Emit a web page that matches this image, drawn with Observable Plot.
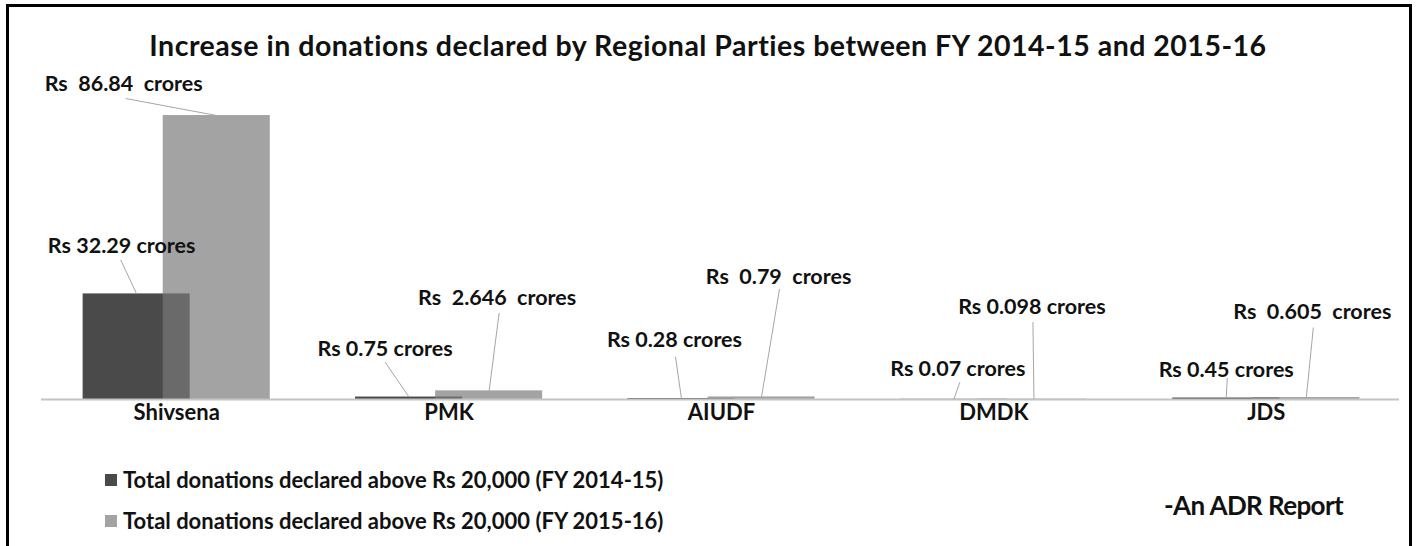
<!DOCTYPE html>
<html>
<head>
<meta charset="utf-8">
<script src="https://cdn.jsdelivr.net/npm/d3@7"></script>
<script src="https://cdn.jsdelivr.net/npm/@observablehq/plot@0.6"></script>
<style>
  html, body { margin: 0; padding: 0; background: #fff; }
  body { font-family: Lato, "Open Sans", sans-serif; color: #111; }
  #wrap { position: relative; width: 1416px; height: 546px; overflow: hidden; }
  #frame { position: absolute; left: 6px; top: 4px; width: 1406px; height: 700px; border: 3px solid #000; box-sizing: border-box; pointer-events: none; }
  #chart { position: absolute; left: 0; top: 0; }
  #title { position: absolute; left: 0; top: 28px; width: 1416px; text-align: center; font-weight: 700; font-size: 28.5px; letter-spacing: 0.5px; line-height: 34px; white-space: nowrap; }
  .legend { position: absolute; left: 105px; font-weight: 700; font-size: 22px; line-height: 24px; white-space: nowrap; display: flex; align-items: center; }
  .legend .sw { width: 12px; height: 12px; margin-right: 6px; display: inline-block; }
  #credit { position: absolute; left: 1164px; top: 489px; font-weight: 700; font-size: 26px; letter-spacing: -0.6px; line-height: 32px; white-space: nowrap; }
</style>
</head>
<body>
<div id="wrap">
  <div id="chart"></div>
  <div id="title">Increase in donations declared by Regional Parties between FY 2014-15 and 2015-16</div>
  <div id="legend"></div>
  <div id="credit">-An ADR Report</div>
  <div id="frame"></div>
</div>
<script>
// ---- data ----
const parties = ["Shivsena", "PMK", "AIUDF", "DMDK", "JDS"];
const fy201415 = [32.29, 0.75, 0.28, 0.07, 0.45];
const fy201516 = [86.84, 2.646, 0.79, 0.098, 0.605];
const seriesNames = [
  "Total donations declared above Rs 20,000 (FY 2014-15)",
  "Total donations declared above Rs 20,000 (FY 2015-16)"
];

// ---- layout / style (not data) ----
const barWidth = 0.393;               // in category units
const seriesOffset = [-0.147, 0.147]; // bar centre offset from category centre
const seriesFill = ["#4a4a4a", "#797979"];
const seriesOpacity = [1, 0.685];
const legendSwatch = ["#4a4a4a", "#a3a3a3"];
const wideSpacing = [[0, 0, 0, 0, 0], [1, 1, 1, 0, 1]];
// pixel nudges relative to bar-top centre: [labelDx, labelDy, leaderDx, leaderDy]
const labelNudge = [
  [[-15, -48, -16, -34], [-24, -48, -24, -35], [-7, -58, -6, -42], [4, -30, 6, -17], [0, -28, 1, -20]],
  [[-93, -31, -91, -17], [8, -93, 10, -78], [17, -120, 18, -108], [-2, -92, -1, -77], [6, -85, 7, -70]]
];
const font = "Lato, 'Open Sans', sans-serif";

// ---- table ----
const values = [fy201415, fy201516];
const rows = [];
values.forEach((vals, s) => parties.forEach((p, i) => rows.push({party: p, i, s, v: vals[i]})));

const base = {
  width: 1416, height: 546,
  marginLeft: 40, marginRight: 14, marginTop: 72, marginBottom: 147,
  x: {type: "linear", domain: [-0.5, parties.length - 0.5], axis: null},
  y: {type: "linear", domain: [0, 100], axis: null},
  style: {fontFamily: font, background: "transparent"}
};

const barMarks = [0, 1].map(s => Plot.rect(rows.filter(d => d.s === s), {
  x1: d => d.i + seriesOffset[s] - barWidth / 2,
  x2: d => d.i + seriesOffset[s] + barWidth / 2,
  y1: 0,
  y2: d => d.v,
  fill: seriesFill[s],
  fillOpacity: seriesOpacity[s]
}));

// probe plot to get the library's scales
const probe = Plot.plot({...base, marks: barMarks});
const sx = probe.scale("x"), sy = probe.scale("y");

const labels = rows.map(d => {
  const cx = d.i + seriesOffset[d.s];
  const px = sx.apply(cx), py = sy.apply(d.v);
  const [ldx, ldy, sdx, sdy] = labelNudge[d.s][d.i];
  const sp = wideSpacing[d.s][d.i] ? "\u00a0\u00a0" : " ";
  return {
    text: `Rs${sp}${d.v}${sp}crores`,
    ax: cx, ay: d.v,
    lx: sx.invert(px + ldx), ly: sy.invert(py + ldy),
    sx: sx.invert(px + sdx), sy: sy.invert(py + sdy)
  };
});

const plot = Plot.plot({
  ...base,
  marks: [
    ...barMarks,
    Plot.ruleY([0], {stroke: "#c4c4c4", strokeWidth: 2, insetLeft: 1, insetRight: 3}),
    Plot.link(labels, {x1: "sx", y1: "sy", x2: "ax", y2: "ay", stroke: "#a6a6a6", strokeWidth: 1}),
    Plot.text(labels, {x: "lx", y: "ly", text: "text", fontSize: 21.5, fontWeight: 700, fill: "#111", textAnchor: "middle", lineAnchor: "middle", fontFamily: font}),
    Plot.text(parties, {x: (d, i) => i, y: 0, text: d => d, dy: 13, fontSize: 22, fontWeight: 700, fill: "#111", textAnchor: "middle", lineAnchor: "middle", fontFamily: font})
  ]
});
document.getElementById("chart").appendChild(plot);

// legend
const legend = document.getElementById("legend");
const legendTop = [468, 509];
seriesNames.forEach((name, s) => {
  const row = document.createElement("div");
  row.className = "legend";
  row.style.top = legendTop[s] + "px";
  const sw = document.createElement("span");
  sw.className = "sw";
  sw.style.background = legendSwatch[s];
  row.appendChild(sw);
  row.appendChild(document.createTextNode(name));
  legend.appendChild(row);
});
</script>
</body>
</html>
